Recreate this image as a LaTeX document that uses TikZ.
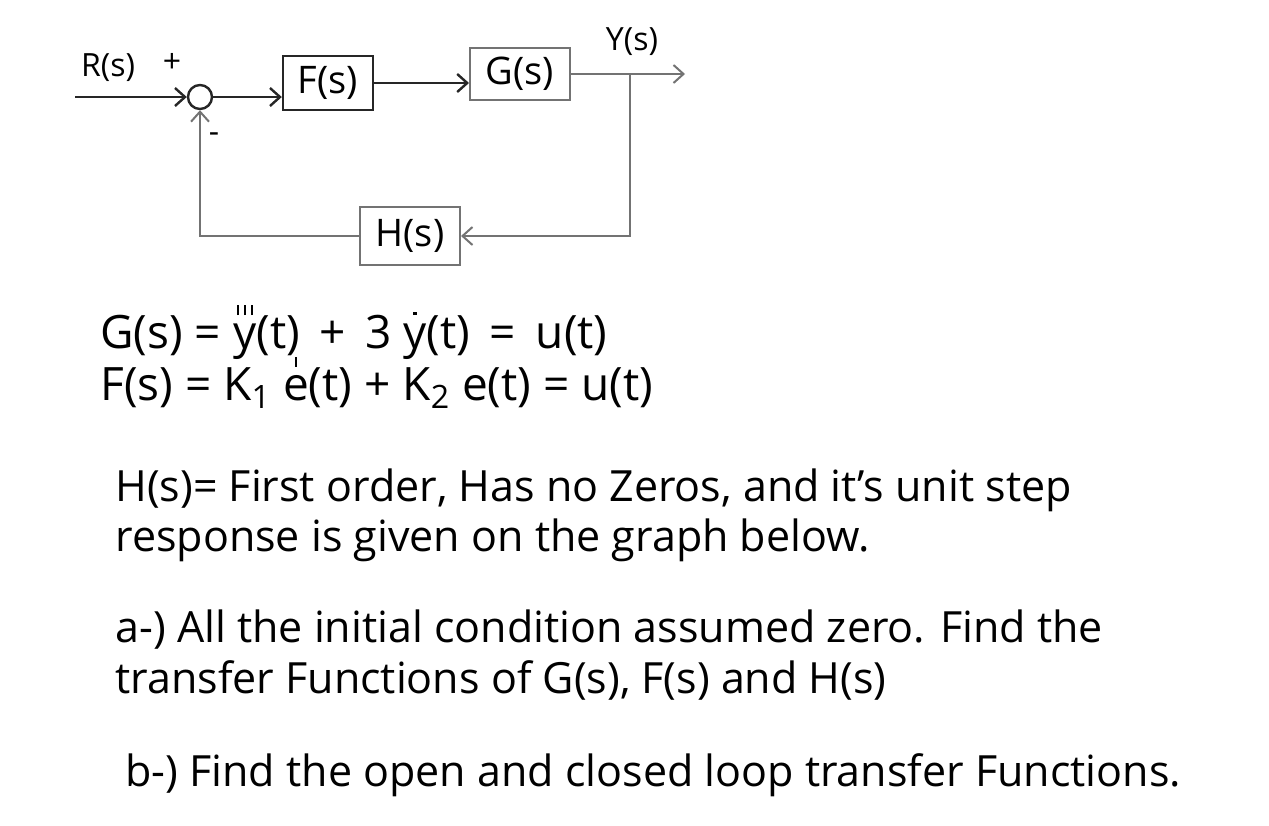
\documentclass[tikz,border=0pt]{standalone}
\usepackage{amsmath}
\usepackage{fontspec}
\setmainfont{Open Sans}
\usetikzlibrary{arrows.meta,positioning}
\newcommand{\markover}[2]{\ensuremath{\overset{\text{\raisebox{-0.5pt}{#1}}}{\text{#2}}}}
\newcommand{\tick}{\rule{0.9pt}{5pt}}
\newcommand{\spot}{\rule{1.8pt}{1.8pt}}

\begin{document}
\begin{tikzpicture}[x=0.5pt, y=-0.5pt,
    ink/.style={draw=black!85, line width=1.2pt},
    pencil/.style={draw=black!55, line width=1pt},
    sig/.style={-{Straight Barb[length=5pt, width=9pt]}},
    block/.style={rectangle, minimum width=45pt, minimum height=27pt, inner sep=2pt, font=\fontsize{19}{22}\selectfont},
    lbl/.style={inner sep=1pt, font=\fontsize{16}{19}\selectfont},
    eqn/.style={anchor=west, inner sep=0pt, font=\fontsize{23}{27}\selectfont},
    txt/.style={anchor=west, inner sep=0pt, font=\fontsize{21.5}{26}\selectfont}]
  \useasboundingbox (0,0) rectangle (1269,825);

  % Block diagram
  \node[circle, ink, minimum size=12pt, inner sep=0pt] (sum) at (200,97) {};
  \coordinate (rin) at (75,97);
  \node[lbl] (rlab) at (108,68) {R(s)};
  \node[lbl] (plus) at (172,63) {+};
  \node[lbl] (minus) at (214,138) {-};

  \node[block, ink] (fblk) at (328,83) {F(s)};
  \node[block, pencil, minimum width=50pt, minimum height=26pt] (gblk) at (520,74) {G(s)};
  \node[block, pencil, minimum width=50pt, minimum height=29pt] (hblk) at (410,236) {H(s)};

  \coordinate (branch) at (630,74);
  \coordinate (yout) at (685,74);
  \node[lbl] (ylab) at (632,42) {Y(s)};
  \coordinate (fbr) at (630,236);
  \coordinate (fbl) at (200,236);

  % Forward path
  \draw[ink, sig] (rin) -- (sum.west);
  \draw[ink, sig] (sum.east) -- (sum.east -| fblk.west);
  \draw[ink, sig] (fblk.east) -- (fblk.east -| gblk.west);
  \draw[pencil] (gblk.east) -- (branch);
  \draw[pencil, sig] (branch) -- (yout);

  % Feedback path
  \draw[pencil, sig] (branch) -- (fbr) -- (hblk.east);
  \draw[pencil, sig] (hblk.west) -- (fbl) -- (sum.south);

  % Equations
  \node[eqn] (geq) at (100,330) {G(s) = \markover{\tick\,\tick\,\tick}{y}(t) \,+\, 3 \markover{\spot}{y}(t) \,=\, u(t)};
  \node[eqn] (feq) at (100,380) {F(s) = K\textsubscript{1} \markover{\tick}{e}(t) + K\textsubscript{2} e(t) = u(t)};

  % Question text
  \node[txt] (h1) at (115,490) {H(s)= First order, Has no Zeros, and it’s unit step};
  \node[txt] (h2) at (115,540) {response is given on the graph below.};
  \node[txt] (a1) at (115,630) {a-) All the initial condition assumed zero. Find the};
  \node[txt] (a2) at (115,680) {transfer Functions of G(s), F(s) and H(s)};
  \node[txt] (b1) at (125,775) {b-) Find the open and closed loop transfer Functions.};
\end{tikzpicture}
\end{document}
